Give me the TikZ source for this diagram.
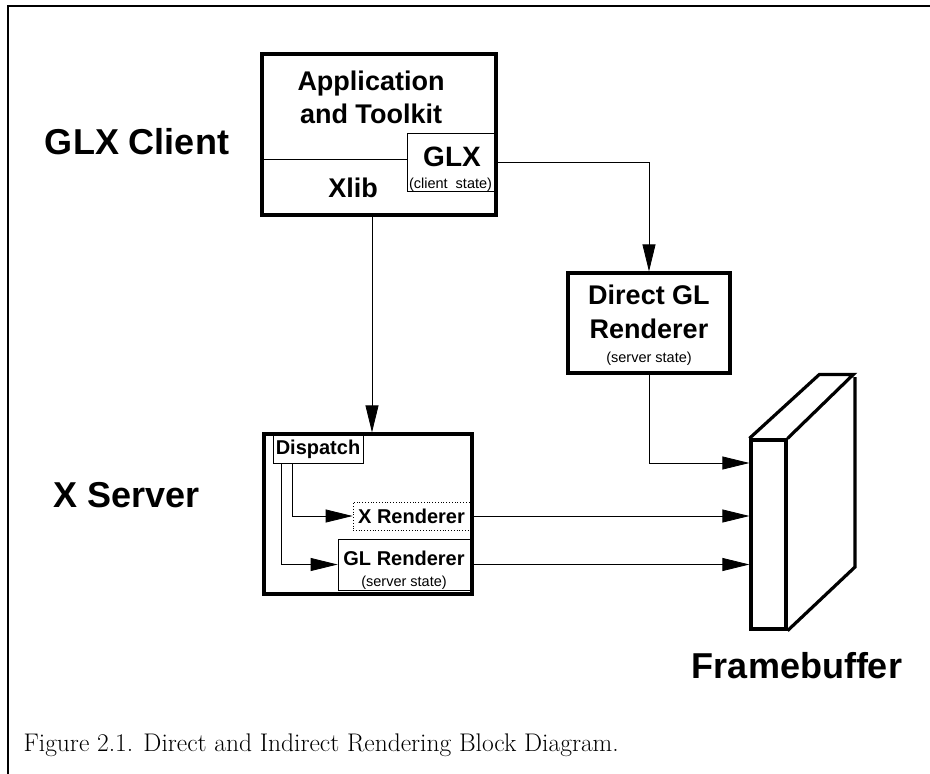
\documentclass[tikz,border=0pt]{standalone}
\usepackage{fontspec}
\setsansfont{Liberation Sans}
\usetikzlibrary{arrows.meta}
\tikzset{
	box/.style={draw=black, line width=3.2pt, inner sep=0pt},
	thinbox/.style={draw=black, line width=0.8pt, inner sep=0pt},
	arr/.style={draw=black, line width=0.8pt, -{Triangle[length=27pt, width=13pt]}},
	huge/.style={font=\sffamily\bfseries\fontsize{36}{40}\selectfont},
	big/.style={font=\sffamily\bfseries\fontsize{27}{31}\selectfont},
	mid/.style={font=\sffamily\bfseries\fontsize{27}{31}\selectfont},
	lbl/.style={font=\sffamily\bfseries\fontsize{20}{24}\selectfont},
	tiny/.style={font=\sffamily\fontsize{14.5}{17}\selectfont},
}
\begin{document}
\begin{tikzpicture}[x=10pt, y=-10pt]
		\useasboundingbox (0.00,0.00) rectangle (93.00,77.40);
		% page frame
		\draw[draw=black, line width=2pt] (0.80,77.40) -- (0.80,0.60) -- (93.00,0.60);
		% side labels
		\node[huge] (clientlbl) at (13.70,14.20) {GLX Client};
		\node[huge] (serverlbl) at (12.70,49.50) {X Server};
		\node[huge] (fblbl) at (79.70,66.60) {Framebuffer};
		% client
		\node[box, minimum width=234pt, minimum height=161pt] (client) at (37.90,13.45) {};
		\draw[draw=black, line width=0.8pt] (26.20,15.90) -- (40.70,15.90);
		\node[thinbox, fill=white, minimum width=87pt, minimum height=58pt] (glx) at (45.05,16.20) {};
		\node[big, anchor=base] (app) at (37.10,9.00) {Application};
		\node[big, anchor=base] (toolkit) at (37.10,12.30) {and Toolkit};
		\node[big, anchor=base] (xlib) at (35.30,19.70) {Xlib};
		\node[big, font=\sffamily\bfseries\fontsize{28}{32}\selectfont, anchor=base] (glxlbl) at (45.20,16.60) {GLX};
		\node[tiny, anchor=base] (clientst) at (45.05,18.80) {(client\ \ state)};
		% direct renderer
		\node[box, minimum width=162pt, minimum height=100pt] (direct) at (64.90,32.30) {};
		\node[mid, anchor=base] (directlbl) at (64.90,30.40) {Direct GL};
		\node[mid, anchor=base] (renderlbl) at (64.90,33.80) {Renderer};
		\node[tiny, anchor=base] (directst) at (64.90,36.20) {(server state)};
		% x server
		\node[box, minimum width=208pt, minimum height=160pt] (server) at (36.80,51.40) {};
		\node[thinbox, lbl, minimum width=90pt, minimum height=28pt] (dispatch) at (31.80,44.90) {Dispatch};
		\node[thinbox, lbl, dotted, minimum width=117pt, minimum height=28pt] (xr) at (41.15,51.60) {X Renderer};
		\node[thinbox, minimum width=132pt, minimum height=51pt] (glr) at (40.40,56.45) {};
		\node[lbl, anchor=base] (glrlbl) at (40.40,56.50) {GL Renderer};
		\node[tiny, anchor=base] (glrst) at (40.40,58.60) {(server state)};
		% framebuffer
		\node[box, minimum width=35pt, minimum height=189pt] (fb) at (76.85,53.45) {};
		\draw[draw=black, line width=3.2pt, line join=miter] (fb.north west) -- ++(7.00,-6.40) -- ++(3.40,0.00) -- (fb.north east);
		\draw[draw=black, line width=3.2pt, line join=miter] (85.50,37.70) -- (85.50,56.70) -- (fb.south east);
		% connectors
		\coordinate (xlibout) at (37.20,21.50);
		\draw[arr] (xlibout) -- (xlibout |- server.north);
		\draw[arr] (glx.east) -| (direct.north);
		\draw[arr] (direct.south) |- (fb.west |- 0,46.30);
		\draw[arr] ([xshift=20pt]dispatch.south west) |- (xr.west);
		\draw[arr] ([xshift=9pt]dispatch.south west) |- (glr.west);
		\draw[arr] (xr.east) -- (xr.east -| fb.west);
		\draw[arr] (glr.east) -- (glr.east -| fb.west);
		% caption
		\node[anchor=base west, font=\fontsize{25.5}{29}\selectfont] (caption) at (2.00,75.10) {Figure 2.1. Direct and Indirect Rendering Block Diagram.};
	\end{tikzpicture}
\end{document}
